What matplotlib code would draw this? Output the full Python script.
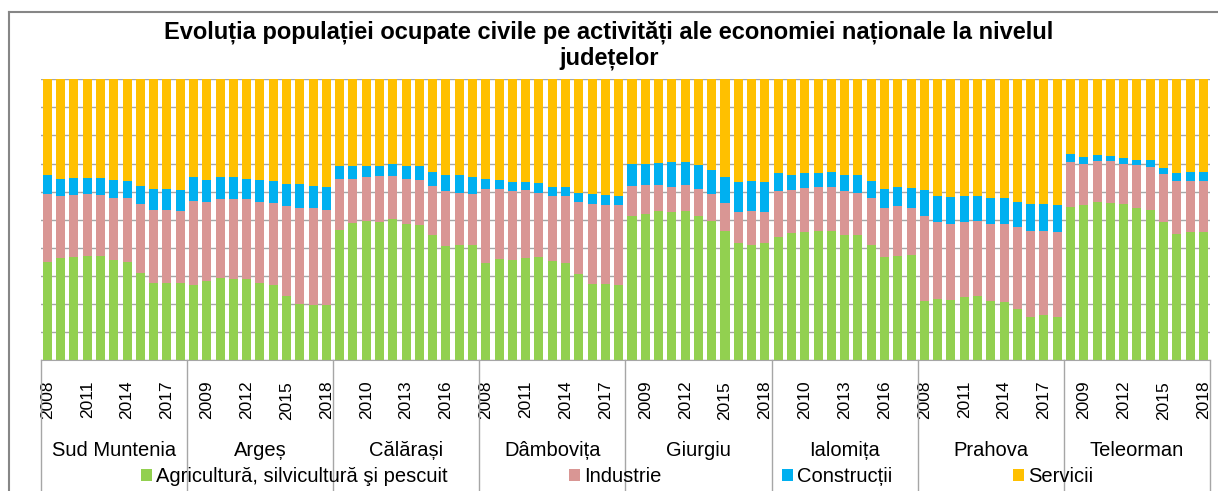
import numpy as np
import matplotlib
matplotlib.use('Agg')
import matplotlib.pyplot as plt
from matplotlib.lines import Line2D

plt.rcParams['font.family'] = ['Liberation Sans', 'DejaVu Sans']

# date (ponderi in %)
years = list(range(2008, 2019))
counties = ['Sud Muntenia', 'Argeș', 'Călărași', 'Dâmbovița',
            'Giurgiu', 'Ialomița', 'Prahova', 'Teleorman']
series = ['Agricultură, silvicultură şi pescuit', 'Industrie',
          'Construcții', 'Servicii']

agricultura = [
    [35.0, 36.3, 36.6, 37.2, 37.2, 35.6, 35.0, 31.0, 27.3, 27.3, 27.3],
    [26.6, 28.3, 29.2, 28.9, 28.8, 27.3, 26.6, 22.9, 19.8, 19.5, 19.5],
    [46.4, 48.8, 49.6, 49.3, 50.1, 48.5, 48.0, 44.4, 40.7, 41.1, 41.1],
    [34.7, 36.0, 35.6, 36.3, 36.7, 35.2, 34.7, 30.8, 27.2, 27.2, 26.7],
    [51.2, 52.1, 53.2, 52.8, 53.2, 51.2, 49.6, 46.0, 41.6, 41.1, 41.6],
    [43.9, 45.1, 45.6, 46.0, 46.0, 44.4, 44.4, 41.1, 36.7, 37.2, 37.5],
    [21.0, 21.8, 21.5, 22.3, 22.7, 21.0, 20.7, 18.2, 15.4, 15.9, 15.4],
    [54.4, 55.2, 56.4, 56.0, 55.7, 54.0, 53.5, 49.3, 44.8, 45.6, 45.6],
]
industrie = [
    [24.3, 22.1, 22.2, 22.1, 21.6, 22.0, 22.6, 24.6, 26.2, 26.2, 25.9],
    [30.2, 28.1, 28.0, 28.3, 28.4, 29.1, 29.3, 31.8, 34.2, 34.5, 34.0],
    [18.1, 15.7, 15.7, 16.4, 15.6, 16.0, 16.1, 17.7, 19.4, 18.5, 18.2],
    [26.2, 24.9, 24.5, 24.2, 22.9, 23.2, 23.7, 25.6, 28.4, 28.0, 28.5],
    [10.9, 10.4, 9.3, 8.8, 9.3, 9.7, 9.7, 10.0, 11.2, 12.1, 11.2],
    [16.2, 15.4, 15.7, 15.6, 15.6, 15.7, 15.2, 16.5, 17.3, 17.7, 16.5],
    [30.2, 27.4, 27.0, 26.9, 26.9, 27.5, 27.8, 29.1, 30.6, 30.1, 30.2],
    [16.1, 14.5, 14.5, 14.9, 14.0, 15.4, 15.4, 16.8, 19.0, 18.2, 18.2],
]
constructii = [
    [6.5, 6.1, 6.0, 5.5, 6.0, 6.5, 6.2, 6.5, 7.4, 7.4, 7.2],
    [8.5, 7.7, 8.1, 8.1, 7.3, 7.7, 7.9, 7.9, 8.6, 8.1, 8.1],
    [4.5, 4.5, 3.7, 3.3, 4.0, 4.5, 4.9, 4.9, 5.7, 6.2, 6.0],
    [3.6, 3.2, 3.2, 2.8, 3.3, 3.2, 3.2, 3.2, 3.7, 3.6, 3.2],
    [7.6, 7.2, 7.6, 8.9, 8.0, 8.5, 8.4, 9.3, 10.5, 10.6, 10.5],
    [6.4, 5.3, 5.2, 4.9, 5.4, 5.7, 6.2, 6.2, 6.9, 6.7, 7.3],
    [9.2, 9.2, 9.6, 9.2, 8.8, 9.1, 9.1, 9.1, 9.6, 9.6, 9.6],
    [2.9, 2.5, 2.0, 1.7, 2.4, 2.0, 2.5, 2.4, 2.7, 3.2, 3.2],
]
servicii = [
    [34.2, 35.5, 35.2, 35.2, 35.2, 35.9, 36.2, 37.9, 39.1, 39.1, 39.6],
    [34.7, 35.9, 34.7, 34.7, 35.5, 35.9, 36.2, 37.4, 37.4, 37.9, 38.4],
    [31.0, 31.0, 31.0, 31.0, 30.3, 31.0, 31.0, 33.0, 34.2, 34.2, 34.7],
    [35.5, 35.9, 36.7, 36.7, 37.1, 38.4, 38.4, 40.4, 40.7, 41.2, 41.6],
    [30.3, 30.3, 29.9, 29.5, 29.5, 30.6, 32.3, 34.7, 36.7, 36.2, 36.7],
    [33.5, 34.2, 33.5, 33.5, 33.0, 34.2, 34.2, 36.2, 39.1, 38.4, 38.7],
    [39.6, 41.6, 41.9, 41.6, 41.6, 42.4, 42.4, 43.6, 44.4, 44.4, 44.8],
    [26.6, 27.8, 27.1, 27.4, 27.9, 28.6, 28.6, 31.5, 33.5, 33.0, 33.0],
]
colors = ['#92D050', '#D99694', '#00B0F0', '#FFC000']

data = [np.concatenate(s) for s in (agricultura, industrie, constructii, servicii)]
total = sum(data)
data = [d / total * 100 for d in data]

n_years = len(years)
n = len(counties) * n_years
x = np.arange(n)

W, H = 1218, 491
fig = plt.figure(figsize=(W / 100, H / 100), dpi=100)
ax = fig.add_axes([40.7 / W, 1 - 360 / H, (1210 - 40.7) / W, (360 - 79.3) / H])

bottom = np.zeros(n)
handles = []
for vals, col, lab in zip(data, colors, series):
    b = ax.bar(x, vals, 0.68, bottom=bottom, color=col, label=lab, zorder=2)
    handles.append(b)
    bottom += vals

ax.set_xlim(-0.5, n - 0.5)
ax.set_ylim(0, 100)
ax.set_yticks(np.arange(0, 101, 10))
ax.set_yticklabels([])
ax.yaxis.grid(True, color='#a6a6a6', lw=1)
ax.set_axisbelow(True)
ax.tick_params(axis='y', length=0)
for s in ['top', 'left', 'right']:
    ax.spines[s].set_visible(False)
ax.spines['bottom'].set_color('#a6a6a6')

ticks = np.arange(0, n, 3)
ax.set_xticks(ticks)
ax.set_xticklabels([str(years[i % n_years]) for i in ticks], rotation=90,
                   fontsize=12.5)
ax.tick_params(axis='x', length=0, pad=15)

# separatoare intre judete si etichete
tr = ax.get_xaxis_transform()
for k in range(len(counties) + 1):
    xb = k * n_years - 0.5
    ax.plot([xb, xb], [0, -0.5], transform=tr, color='#a6a6a6', lw=1,
            clip_on=False)
for k, name in enumerate(counties):
    ax.text(k * n_years + (n_years - 1) / 2, (360 - 451) / 280.7, name,
            transform=tr, ha='center', va='center', fontsize=14.5)

fig.legend(handles, series, ncol=4, loc='center left',
           bbox_to_anchor=(141 / W, 1 - 477 / H), frameon=False,
           fontsize=14.5, handlelength=0.55, handleheight=0.55,
           handletextpad=0.2, columnspacing=6.0, borderpad=0,
           borderaxespad=0)

fig.text(0.5, 1 - 21 / H,
         'Evoluția populației ocupate civile pe activități ale economiei naționale la nivelul\njudețelor',
         ha='center', va='top', fontsize=17, fontweight='bold', linespacing=1.1)

# chenar
fig.add_artist(Line2D([9 / W, 9 / W], [0, 1 - 12 / H], transform=fig.transFigure,
                      color='#868686', lw=1.5))
fig.add_artist(Line2D([9 / W, 1], [1 - 12 / H, 1 - 12 / H], transform=fig.transFigure,
                      color='#868686', lw=1.5))

fig.savefig('out.png', dpi=100)
